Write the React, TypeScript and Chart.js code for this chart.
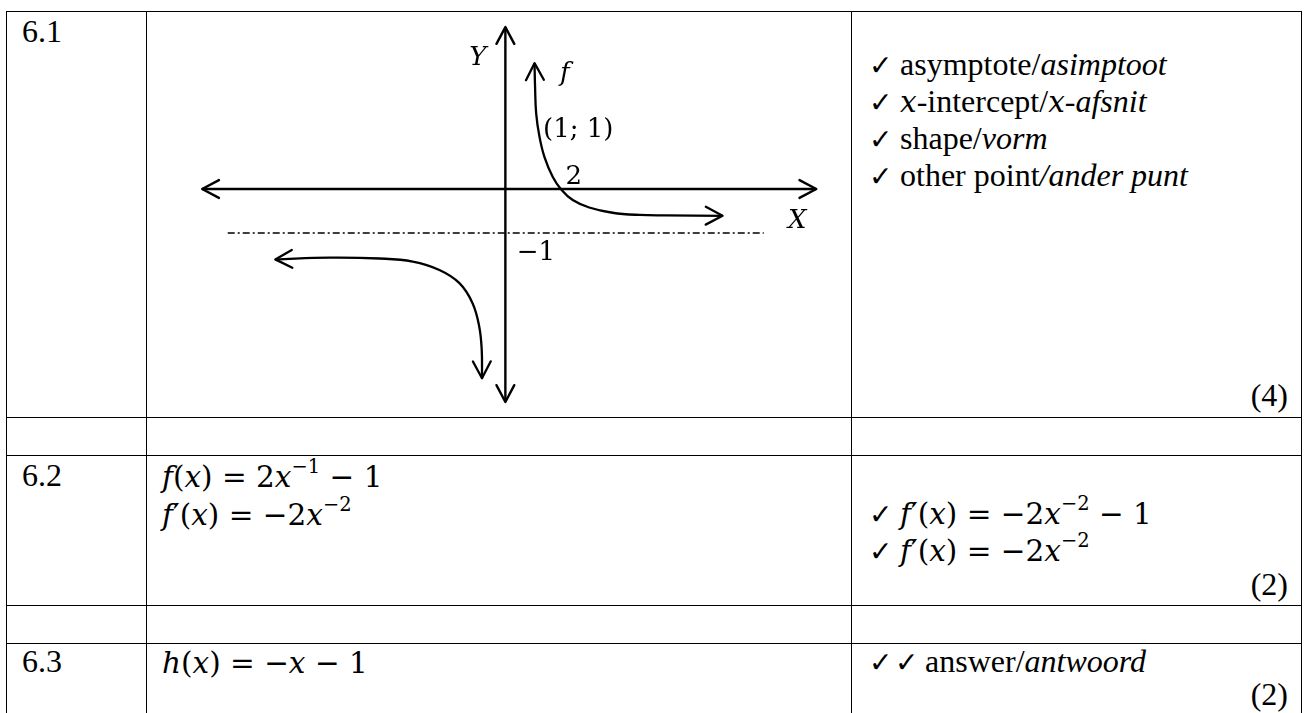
import React, { useEffect, useRef } from "react";
import { Chart, registerables } from "chart.js";

Chart.register(...registerables);

// ---------------- data ----------------
const questionNumbers = ["6.1", "6.2", "6.3"];
const questionMarks = ["(4)", "(2)", "(2)"];

// sketch of f(x) = 2/x - 1 (in sketch units)
const xAxisX = [-11.03, 11.31];
const xAxisY = [0, 0];
const yAxisX = [0, 0];
const yAxisY = [-4.84, 3.68];
const asymptoteX = [-10.1, 9.4];
const asymptoteY = [-1, -1];

const rightBranchX = [1.06, 1.08, 1.12, 1.24, 1.42, 1.72, 2.03, 2.45, 3.05, 3.9, 4.87, 5.84, 7.9];
const rightBranchY = [2.86, 2.33, 1.72, 1.19, 0.73, 0.28, -0.01, -0.25, -0.42, -0.54, -0.59, -0.6, -0.61];
const leftBranchX = [-8.37, -6.4, -4.58, -3.37, -2.4, -1.67, -1.19, -0.95, -0.86, -0.85];
const leftBranchY = [-1.6, -1.56, -1.58, -1.65, -1.84, -2.14, -2.6, -3.13, -3.66, -4.3];

const chartLabels = ["Y", "f", "(1; 1)", "2", "X", "\u22121"];
const chartLabelX = [-1.0, 2.16, 2.65, 2.49, 10.62, 1.11];
const chartLabelY = [2.82, 2.45, 1.18, 0.11, -0.89, -1.61];
const chartLabelItalic = [true, true, false, false, true, false];

// rubric for 6.1: segments [text, style]  r = regular, i = italic, m = math italic
const rubric61: [string, string][][] = [
  [["asymptote/", "r"], ["asimptoot", "i"]],
  [["x", "m"], ["-intercept/", "r"], ["x", "m"], ["-afsnit", "i"]],
  [["shape/", "r"], ["vorm", "i"]],
  [["other point", "r"], ["/ander punt", "i"]],
];
const rubric63: [string, string][] = [["answer/", "r"], ["antwoord", "i"]];

// ---------------- layout constants ----------------
const PAGE_W = 1305;
const PAGE_H = 713;
const colLines = [6, 146, 851, 1301];
const rowLines = [11, 417, 455, 605, 643];

const SERIF = '"Liberation Serif","Times New Roman",serif';
const MATH = '"DejaVu Serif",serif';
const CHECK = '"DejaVu Sans",sans-serif';
const TEXT_SIZE = 32;
const MATH_SIZE = 29.5;
const LH = 44;

const zip = (xs: number[], ys: number[]) => xs.map((x, i) => ({ x, y: ys[i] }));

const arrowPlugin = {
  id: "arrowHeads",
  afterDatasetsDraw(chart: any) {
    const ctx = chart.ctx;
    const L = 19;
    const A = (28 * Math.PI) / 180;
    chart.data.datasets.forEach((ds: any, i: number) => {
      if (!ds.arrows) return;
      const pts = chart.getDatasetMeta(i).data;
      const n = pts.length;
      const draw = (tip: any, from: any) => {
        const ang = Math.atan2(tip.y - from.y, tip.x - from.x);
        ctx.save();
        ctx.setLineDash([]);
        ctx.strokeStyle = "#000";
        ctx.lineWidth = ds.borderWidth;
        ctx.lineCap = "round";
        ctx.lineJoin = "round";
        ctx.beginPath();
        ctx.moveTo(tip.x - L * Math.cos(ang - A), tip.y - L * Math.sin(ang - A));
        ctx.lineTo(tip.x, tip.y);
        ctx.lineTo(tip.x - L * Math.cos(ang + A), tip.y - L * Math.sin(ang + A));
        ctx.stroke();
        ctx.restore();
      };
      if (ds.arrows[0]) draw(pts[0], pts[1]);
      if (ds.arrows[1]) draw(pts[n - 1], pts[n - 2]);
    });
  },
};

const labelPlugin = {
  id: "sketchLabels",
  afterDatasetsDraw(chart: any) {
    const ctx = chart.ctx;
    const xs = chart.scales.x;
    const ys = chart.scales.y;
    ctx.save();
    ctx.fillStyle = "#000";
    ctx.textAlign = "center";
    ctx.textBaseline = "alphabetic";
    chartLabels.forEach((t, i) => {
      ctx.font = (chartLabelItalic[i] ? "italic " : "") + "26px " + MATH;
      ctx.fillText(t, xs.getPixelForValue(chartLabelX[i]), ys.getPixelForValue(chartLabelY[i]));
    });
    ctx.restore();
  },
};

function SketchChart() {
  const ref = useRef<HTMLCanvasElement | null>(null);
  useEffect(() => {
    if (!ref.current) return;
    const line = (xs: number[], ys: number[], extra: any) => ({
      data: zip(xs, ys),
      showLine: true,
      borderColor: "#000",
      backgroundColor: "#000",
      pointRadius: 0,
      pointHoverRadius: 0,
      fill: false,
      clip: false,
      ...extra,
    });
    const chart = new Chart(ref.current, {
      type: "scatter",
      data: {
        datasets: [
          line(xAxisX, xAxisY, { borderWidth: 2.4, tension: 0, arrows: [true, true] }),
          line(yAxisX, yAxisY, { borderWidth: 2.4, tension: 0, arrows: [true, true] }),
          line(asymptoteX, asymptoteY, { borderWidth: 1.5, tension: 0, borderDash: [7, 3, 2, 3] }),
          line(rightBranchX, rightBranchY, { borderWidth: 2.3, tension: 0.4, arrows: [true, true] }),
          line(leftBranchX, leftBranchY, { borderWidth: 2.3, tension: 0.4, arrows: [true, true] }),
        ] as any,
      },
      options: {
        responsive: false,
        maintainAspectRatio: false,
        animation: false,
        events: [],
        layout: { padding: 0 },
        plugins: { legend: { display: false }, tooltip: { enabled: false } },
        scales: {
          x: { type: "linear", min: -13, max: 12.5, display: false },
          y: { type: "linear", min: -5, max: 4, display: false },
        },
      },
      plugins: [arrowPlugin, labelPlugin],
    } as any);
    return () => chart.destroy();
  }, []);
  return (
    <canvas
      ref={ref}
      width={701}
      height={396}
      style={{ position: "absolute", left: 148, top: 13, width: 701, height: 396 }}
    />
  );
}

function Txt(props: {
  x?: number;
  right?: number;
  base: number;
  size?: number;
  family?: string;
  k?: number;
  weight?: string;
  children: any;
}) {
  const size = props.size ?? TEXT_SIZE;
  const family = props.family ?? SERIF;
  const k = props.k ?? (family === SERIF ? 0.3375 : 0.346);
  const style: any = {
    position: "absolute",
    top: props.base - LH / 2 - k * size,
    height: LH,
    lineHeight: LH + "px",
    fontSize: size,
    fontFamily: family,
    fontWeight: props.weight ?? "normal",
    whiteSpace: "nowrap",
    color: "#000",
  };
  if (props.right !== undefined) style.right = props.right;
  else style.left = props.x;
  return <div style={style}>{props.children}</div>;
}

const I = ({ children }: any) => <span style={{ fontStyle: "italic" }}>{children}</span>;
const Sup = ({ children }: any) => (
  <span style={{ fontSize: "0.66em", position: "relative", top: "-0.7em" }}>{children}</span>
);
const Check = ({ x, base }: { x: number; base: number }) => (
  <Txt x={x - 1} base={base + 1} size={28} family={CHECK} k={0.346} weight="bold">
    {"\u2713"}
  </Txt>
);

function Segments({ segs }: { segs: [string, string][] }) {
  return (
    <>
      {segs.map(([t, s], i) =>
        s === "m" ? (
          <span key={i} style={{ fontFamily: MATH, fontStyle: "italic", fontSize: MATH_SIZE }}>
            {t}
          </span>
        ) : (
          <span key={i} style={{ fontStyle: s === "i" ? "italic" : "normal" }}>
            {t}
          </span>
        )
      )}
    </>
  );
}

export default function App() {
  const rubricBases = [75, 112, 149, 186];
  return (
    <div
      style={{
        position: "absolute",
        left: 0,
        top: 0,
        width: PAGE_W,
        height: PAGE_H,
        overflow: "hidden",
        background: "#fff",
      }}
    >
      {colLines.map((x, i) => (
        <div
          key={"c" + i}
          style={{ position: "absolute", left: x, top: rowLines[0], width: 1, height: PAGE_H - rowLines[0], background: "#000" }}
        />
      ))}
      {rowLines.map((y, i) => (
        <div
          key={"r" + i}
          style={{ position: "absolute", left: colLines[0], top: y, width: colLines[3] - colLines[0] + 1, height: 1, background: "#000" }}
        />
      ))}

      {/* question numbers */}
      <Txt x={22} base={42}>{questionNumbers[0]}</Txt>
      <Txt x={22} base={486}>{questionNumbers[1]}</Txt>
      <Txt x={22} base={672}>{questionNumbers[2]}</Txt>

      {/* 6.1 sketch */}
      <SketchChart />

      {/* 6.1 rubric */}
      {rubric61.map((segs, i) => (
        <React.Fragment key={"r61" + i}>
          <Check x={870} base={rubricBases[i]} />
          <Txt x={900} base={rubricBases[i]}>
            <Segments segs={segs} />
          </Txt>
        </React.Fragment>
      ))}
      <Txt right={PAGE_W - 1288} base={406}>{questionMarks[0]}</Txt>

      {/* 6.2 answer */}
      <Txt x={162} base={487} family={MATH} size={MATH_SIZE}>
        <I>f</I>(<I>x</I>) = 2<I>x</I>
        <Sup>{"\u22121"}</Sup> {"\u2212"} 1
      </Txt>
      <Txt x={162} base={525} family={MATH} size={MATH_SIZE}>
        <I>f</I>{"\u2032"}(<I>x</I>) = {"\u2212"}2<I>x</I>
        <Sup>{"\u22122"}</Sup>
      </Txt>

      {/* 6.2 rubric */}
      <Check x={870} base={524} />
      <Txt x={900} base={524} family={MATH} size={MATH_SIZE}>
        <I>f</I>{"\u2032"}(<I>x</I>) = {"\u2212"}2<I>x</I>
        <Sup>{"\u22122"}</Sup> {"\u2212"} 1
      </Txt>
      <Check x={870} base={561} />
      <Txt x={900} base={561} family={MATH} size={MATH_SIZE}>
        <I>f</I>{"\u2032"}(<I>x</I>) = {"\u2212"}2<I>x</I>
        <Sup>{"\u22122"}</Sup>
      </Txt>
      <Txt right={PAGE_W - 1288} base={595}>{questionMarks[1]}</Txt>

      {/* 6.3 answer */}
      <Txt x={162} base={673} family={MATH} size={MATH_SIZE}>
        <I>h</I>(<I>x</I>) = {"\u2212"}<I>x</I> {"\u2212"} 1
      </Txt>
      <Check x={870} base={672} />
      <Check x={896} base={672} />
      <Txt x={925} base={672}>
        <Segments segs={rubric63} />
      </Txt>
      <Txt right={PAGE_W - 1288} base={705}>{questionMarks[2]}</Txt>
    </div>
  );
}
